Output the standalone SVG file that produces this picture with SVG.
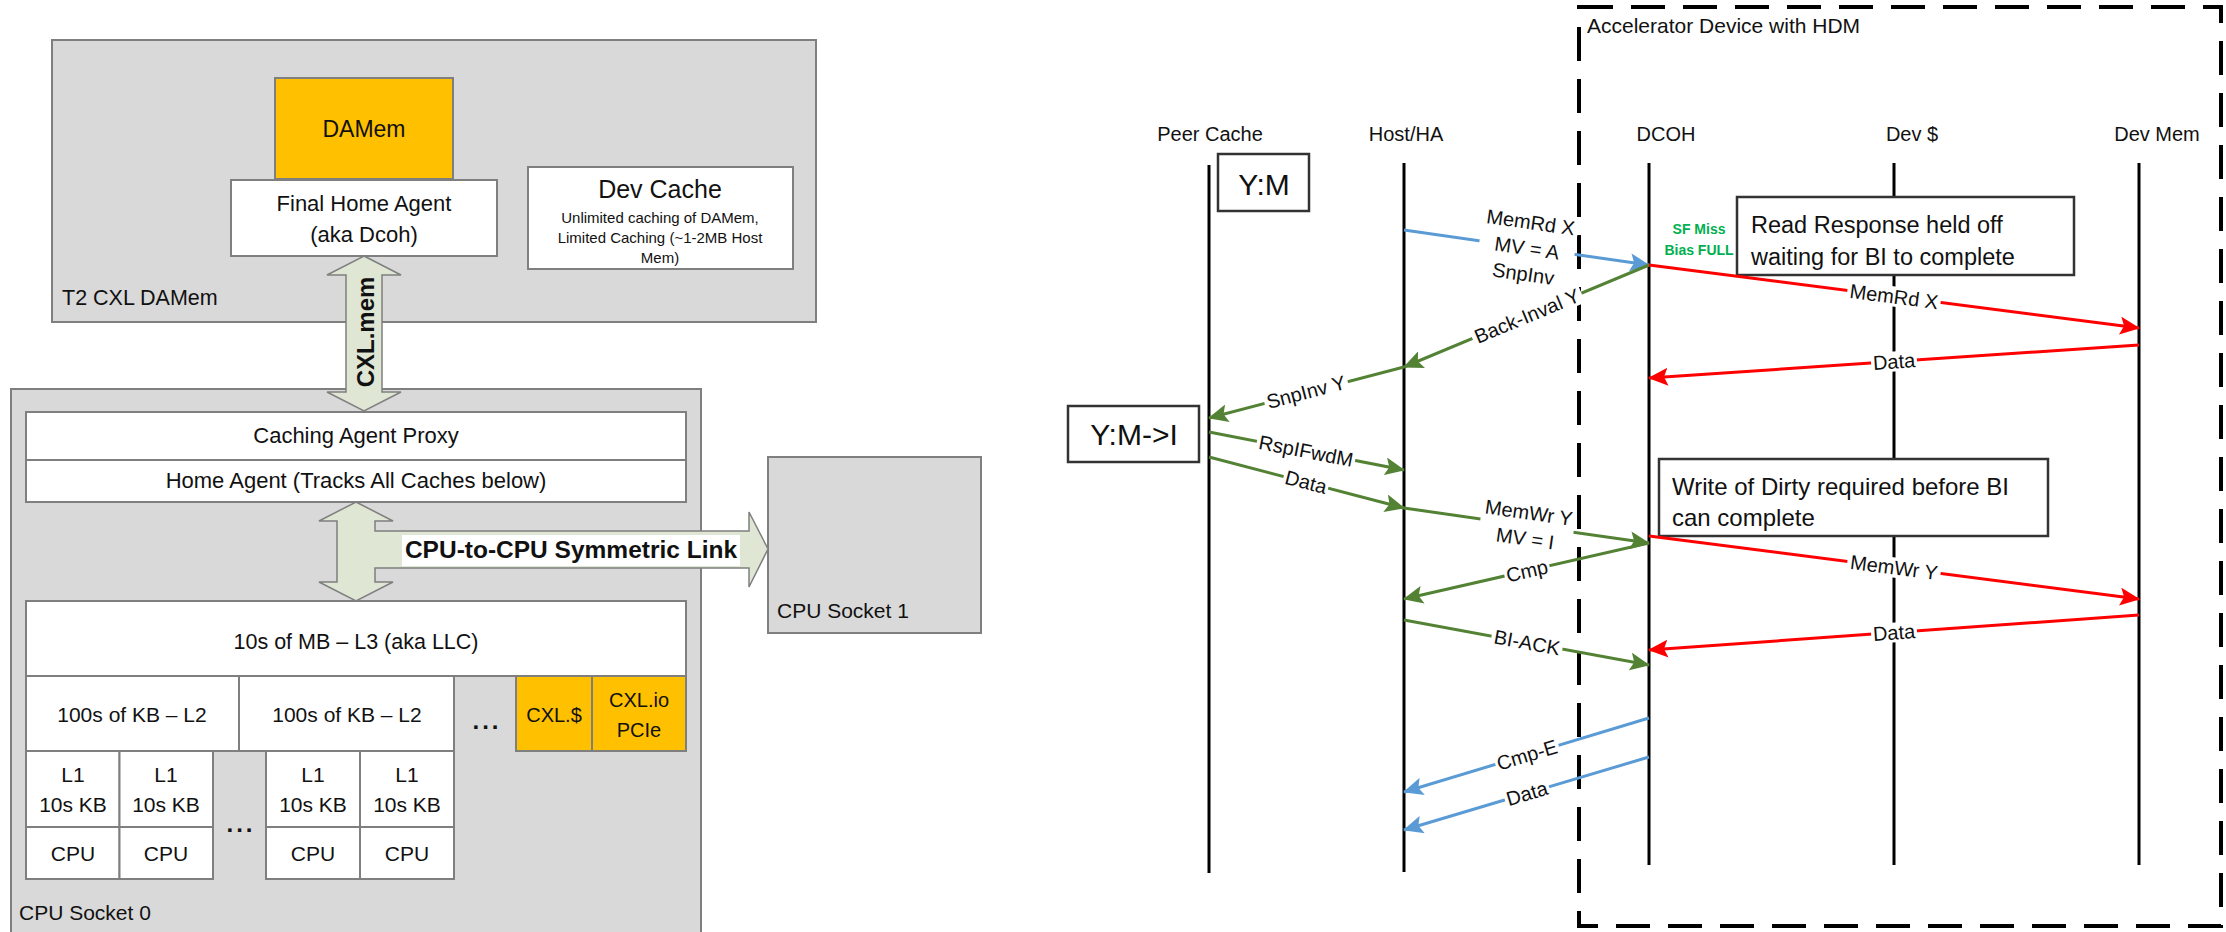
<svg xmlns="http://www.w3.org/2000/svg" width="2226" height="932" viewBox="0 0 2226 932">
<style>
  text { font-family: "Liberation Sans", Arial, sans-serif; fill: #111; }
  .panel { fill: #d9d9d9; stroke: #7f7f7f; stroke-width: 2; }
  .box { fill: #fff; stroke: #7f7f7f; stroke-width: 2; }
  .gold { fill: #ffc000; stroke: #7f7f7f; stroke-width: 2; }
  .bus { fill: #dfe6d4; stroke: #7f7f7f; stroke-width: 1.5; }
  .c { text-anchor: middle; }
  .f20 { font-size: 20px; }
  .f21 { font-size: 21px; }
  .f22 { font-size: 22px; }
  .dots { font-size: 24px; font-weight: bold; letter-spacing: 3px; text-anchor: middle; }
  .life { stroke: #000; stroke-width: 3; fill: none; }
  .head { font-size: 20px; text-anchor: middle; }
  .frame { fill: none; stroke: #000; stroke-width: 4; stroke-dasharray: 34 18; }
  .state { fill: #fff; stroke: #333; stroke-width: 2.5; }
  .note { fill: #fff; stroke: #333; stroke-width: 2.5; }
  .msg { fill: none; stroke-width: 3; }
  .blue { stroke: #5b9bd5; }
  .green { stroke: #548235; }
  .red { stroke: #ff0000; }
  .lbl { font-size: 20px; text-anchor: middle; }
  .lbg { fill: #fff; }
  .sf { font-size: 14px; font-weight: bold; fill: #00b050; text-anchor: middle; }
</style>
<defs>
  <marker id="ah-blue" viewBox="0 0 20 18" refX="19" refY="9" markerWidth="20" markerHeight="18" markerUnits="userSpaceOnUse" orient="auto">
    <path d="M0,0 L20,9 L0,18 L4,9 Z" fill="#5b9bd5"/>
  </marker>
  <marker id="ah-green" viewBox="0 0 20 18" refX="19" refY="9" markerWidth="20" markerHeight="18" markerUnits="userSpaceOnUse" orient="auto">
    <path d="M0,0 L20,9 L0,18 L4,9 Z" fill="#548235"/>
  </marker>
  <marker id="ah-red" viewBox="0 0 20 18" refX="19" refY="9" markerWidth="20" markerHeight="18" markerUnits="userSpaceOnUse" orient="auto">
    <path d="M0,0 L20,9 L0,18 L4,9 Z" fill="#ff0000"/>
  </marker>
</defs>
<rect width="2226" height="932" fill="#fff"/>

<!-- ===== Left: CXL type-2 device and host sockets ===== -->
<g id="t2-damem">
  <rect class="panel" x="52" y="40" width="764" height="282"/>
  <text x="62" y="305" style="font-size:21.5px">T2 CXL DAMem</text>
</g>
<g id="damem">
  <rect class="gold" x="275" y="78" width="178" height="101"/>
  <text class="c" x="364" y="137" style="font-size:23px">DAMem</text>
</g>
<g id="final-home-agent">
  <rect class="box" x="231" y="180" width="266" height="76"/>
  <text class="c f22" x="364" y="211">Final Home Agent</text>
  <text class="c f22" x="364" y="242">(aka Dcoh)</text>
</g>
<g id="dev-cache">
  <rect class="box" x="528" y="167" width="265" height="102"/>
  <text class="c" x="660" y="198" style="font-size:25px">Dev Cache</text>
  <text class="c" x="660" y="223" style="font-size:15px">Unlimited caching of DAMem,</text>
  <text class="c" x="660" y="243" style="font-size:15px">Limited Caching (~1-2MB Host</text>
  <text class="c" x="660" y="263" style="font-size:15px">Mem)</text>
</g>

<g id="cpu-socket-0">
  <rect class="panel" x="11" y="389" width="690" height="560"/>
  <text x="19" y="920" class="f21">CPU Socket 0</text>
</g>
<g id="cpu-socket-1">
  <rect class="panel" x="768" y="457" width="213" height="176"/>
  <text x="777" y="618" class="f21">CPU Socket 1</text>
</g>

<g id="caching-agent-proxy">
  <rect class="box" x="26" y="412" width="660" height="48"/>
  <text class="c f22" x="356" y="443">Caching Agent Proxy</text>
</g>
<g id="home-agent">
  <rect class="box" x="26" y="460" width="660" height="42"/>
  <text class="c f22" x="356" y="488">Home Agent (Tracks All Caches below)</text>
</g>
<g id="llc">
  <rect class="box" x="26" y="601" width="660" height="75"/>
  <text class="c" x="356" y="649" style="font-size:21.5px">10s of MB – L3 (aka LLC)</text>
</g>
<g id="l2-a">
  <rect class="box" x="26" y="676" width="213" height="75"/>
  <text class="c f21" x="132" y="722">100s of KB – L2</text>
</g>
<g id="l2-b">
  <rect class="box" x="239" y="676" width="215" height="75"/>
  <text class="c f21" x="347" y="722">100s of KB – L2</text>
</g>
<text class="dots" x="487" y="729">...</text>
<g id="cxl-cache">
  <rect class="gold" x="516" y="676" width="76" height="75"/>
  <text class="c f20" x="554" y="722">CXL.$</text>
</g>
<g id="cxl-io">
  <rect class="gold" x="592" y="676" width="94" height="75"/>
  <text class="c f20" x="639" y="707">CXL.io</text>
  <text class="c f20" x="639" y="737">PCIe</text>
</g>
<g id="core-0">
  <rect class="box" x="26" y="751" width="93.5" height="76"/>
  <rect class="box" x="26" y="827" width="93.5" height="52"/>
  <text class="c f21" x="73" y="782">L1</text>
  <text class="c f21" x="73" y="812">10s KB</text>
  <text class="c f21" x="73" y="861">CPU</text>
</g>
<g id="core-1">
  <rect class="box" x="119.5" y="751" width="93.5" height="76"/>
  <rect class="box" x="119.5" y="827" width="93.5" height="52"/>
  <text class="c f21" x="166" y="782">L1</text>
  <text class="c f21" x="166" y="812">10s KB</text>
  <text class="c f21" x="166" y="861">CPU</text>
</g>
<text class="dots" x="241" y="832">...</text>
<g id="core-2">
  <rect class="box" x="266" y="751" width="94" height="76"/>
  <rect class="box" x="266" y="827" width="94" height="52"/>
  <text class="c f21" x="313" y="782">L1</text>
  <text class="c f21" x="313" y="812">10s KB</text>
  <text class="c f21" x="313" y="861">CPU</text>
</g>
<g id="core-3">
  <rect class="box" x="360" y="751" width="94" height="76"/>
  <rect class="box" x="360" y="827" width="94" height="52"/>
  <text class="c f21" x="407" y="782">L1</text>
  <text class="c f21" x="407" y="812">10s KB</text>
  <text class="c f21" x="407" y="861">CPU</text>
</g>

<g id="links">
  <!-- CXL.mem between device and socket 0 -->
  <path class="bus" d="M364,256 L401,275 L382,275 L382,392 L401,392 L364,411 L327,392 L346,392 L346,275 L327,275 Z"/>
  <text transform="translate(374,332) rotate(-90)" class="c" style="font-size:24px;font-weight:bold">CXL.mem</text>
  <!-- home agent / LLC link with branch to the other socket -->
  <path class="bus" d="M356,502 L393,521 L375,521 L375,531 L749,531 L749,512 L768,549 L749,587 L749,568 L375,568 L375,582 L393,582 L356,601 L319,582 L337,582 L337,521 L319,521 Z"/>
  <rect x="402" y="535" width="338" height="31" fill="#fff"/>
  <text class="c" x="571" y="558" style="font-size:24.5px;font-weight:bold">CPU-to-CPU Symmetric Link</text>
</g>

<!-- ===== Right: back-invalidate message flow ===== -->
<g id="accelerator-device">
  <rect class="frame" x="1579" y="7" width="642" height="919"/>
  <text x="1587" y="33" style="font-size:21px">Accelerator Device with HDM</text>
</g>

<g id="peer-cache">
  <text class="head" x="1210" y="141">Peer Cache</text>
  <line class="life" x1="1209" y1="165" x2="1209" y2="873"/>
</g>
<g id="host-ha">
  <text class="head" x="1406" y="141">Host/HA</text>
  <line class="life" x1="1404" y1="163" x2="1404" y2="872"/>
</g>
<g id="dcoh">
  <text class="head" x="1666" y="141">DCOH</text>
  <line class="life" x1="1649" y1="163" x2="1649" y2="865"/>
</g>
<g id="dev-cache-life">
  <text class="head" x="1912" y="141">Dev $</text>
  <line class="life" x1="1894" y1="163" x2="1894" y2="865"/>
</g>
<g id="dev-mem">
  <text class="head" x="2157" y="141">Dev Mem</text>
  <line class="life" x1="2139" y1="163" x2="2139" y2="865"/>
</g>

<g id="state-ym">
  <rect class="state" x="1218" y="154" width="91" height="57"/>
  <text class="c" x="1264" y="195" style="font-size:30px">Y:M</text>
</g>
<g id="state-ymi">
  <rect class="state" x="1068" y="406" width="131" height="56"/>
  <text class="c" x="1134" y="445" style="font-size:30px">Y:M-&gt;I</text>
</g>
<g id="note-read">
  <rect class="note" x="1737" y="197" width="337" height="78"/>
  <text x="1751" y="233" style="font-size:23.5px">Read Response held off</text>
  <text x="1751" y="265" style="font-size:23.5px">waiting for BI to complete</text>
</g>
<g id="note-write">
  <rect class="note" x="1659" y="459" width="389" height="77"/>
  <text x="1672" y="495" style="font-size:24px">Write of Dirty required before BI</text>
  <text x="1672" y="526" style="font-size:24px">can complete</text>
</g>
<g id="sf-miss">
  <text class="sf" x="1699" y="234">SF Miss</text>
  <text class="sf" x="1699" y="255">Bias FULL</text>
</g>

<g id="messages">
  <path class="msg blue" d="M1404,230 L1649,265" marker-end="url(#ah-blue)"/>
  <path class="msg green" d="M1649,265 L1404,367" marker-end="url(#ah-green)"/>
  <path class="msg green" d="M1404,367 L1209,418" marker-end="url(#ah-green)"/>
  <path class="msg green" d="M1209,432 L1404,470" marker-end="url(#ah-green)"/>
  <path class="msg green" d="M1209,457 L1404,508" marker-end="url(#ah-green)"/>
  <path class="msg green" d="M1404,508 L1649,543" marker-end="url(#ah-green)"/>
  <path class="msg green" d="M1649,543 L1404,599" marker-end="url(#ah-green)"/>
  <path class="msg green" d="M1404,620 L1649,665" marker-end="url(#ah-green)"/>
  <path class="msg blue" d="M1649,718 L1404,792" marker-end="url(#ah-blue)"/>
  <path class="msg blue" d="M1649,757 L1404,830" marker-end="url(#ah-blue)"/>
  <path class="msg red" d="M1649,265 L2139,328" marker-end="url(#ah-red)"/>
  <path class="msg red" d="M2139,345 L1649,378" marker-end="url(#ah-red)"/>
  <path class="msg red" d="M1649,536 L2139,599" marker-end="url(#ah-red)"/>
  <path class="msg red" d="M2139,615 L1649,650" marker-end="url(#ah-red)"/>
</g>

<g id="message-labels">
  <g transform="translate(1527,248) rotate(8.13)">
    <rect class="lbg" x="-48" y="-37" width="96" height="76"/>
    <text class="lbl"><tspan x="0" y="-19">MemRd X</tspan><tspan x="0" y="7">MV = A</tspan><tspan x="0" y="33">SnpInv</tspan></text>
  </g>
  <g transform="translate(1527,316) rotate(-22.6)">
    <rect class="lbg" x="-59" y="-10" width="118" height="20"/>
    <text class="lbl" y="7">Back-Inval Y</text>
  </g>
  <g transform="translate(1306,392) rotate(-14.66)">
    <rect class="lbg" x="-43" y="-10" width="86" height="20"/>
    <text class="lbl" y="7">SnpInv Y</text>
  </g>
  <g transform="translate(1306,451) rotate(11.03)">
    <rect class="lbg" x="-50" y="-10" width="100" height="20"/>
    <text class="lbl" y="7">RspIFwdM</text>
  </g>
  <g transform="translate(1306,482) rotate(14.66)">
    <rect class="lbg" x="-23" y="-10" width="46" height="20"/>
    <text class="lbl" y="7">Data</text>
  </g>
  <g transform="translate(1527,525.5) rotate(8.13)">
    <rect class="lbg" x="-47" y="-23" width="94" height="48"/>
    <text class="lbl"><tspan x="0" y="-6">MemWr Y</tspan><tspan x="0" y="20">MV = I</tspan></text>
  </g>
  <g transform="translate(1527,571) rotate(-12.88)">
    <rect class="lbg" x="-23" y="-10" width="46" height="20"/>
    <text class="lbl" y="7">Cmp</text>
  </g>
  <g transform="translate(1527,642.5) rotate(10.4)">
    <rect class="lbg" x="-36" y="-10" width="72" height="20"/>
    <text class="lbl" y="7">BI-ACK</text>
  </g>
  <g transform="translate(1527,755) rotate(-16.8)">
    <rect class="lbg" x="-33" y="-10" width="66" height="20"/>
    <text class="lbl" y="7">Cmp-E</text>
  </g>
  <g transform="translate(1527,793.5) rotate(-16.6)">
    <rect class="lbg" x="-23" y="-10" width="46" height="20"/>
    <text class="lbl" y="7">Data</text>
  </g>
  <g transform="translate(1894,296.5) rotate(7.33)">
    <rect class="lbg" x="-47" y="-10" width="94" height="20"/>
    <text class="lbl" y="7">MemRd X</text>
  </g>
  <g transform="translate(1894,361.5) rotate(-3.85)">
    <rect class="lbg" x="-23" y="-10" width="46" height="20"/>
    <text class="lbl" y="7">Data</text>
  </g>
  <g transform="translate(1894,567.5) rotate(7.33)">
    <rect class="lbg" x="-47" y="-10" width="94" height="20"/>
    <text class="lbl" y="7">MemWr Y</text>
  </g>
  <g transform="translate(1894,632.5) rotate(-4.09)">
    <rect class="lbg" x="-23" y="-10" width="46" height="20"/>
    <text class="lbl" y="7">Data</text>
  </g>
</g>
</svg>
